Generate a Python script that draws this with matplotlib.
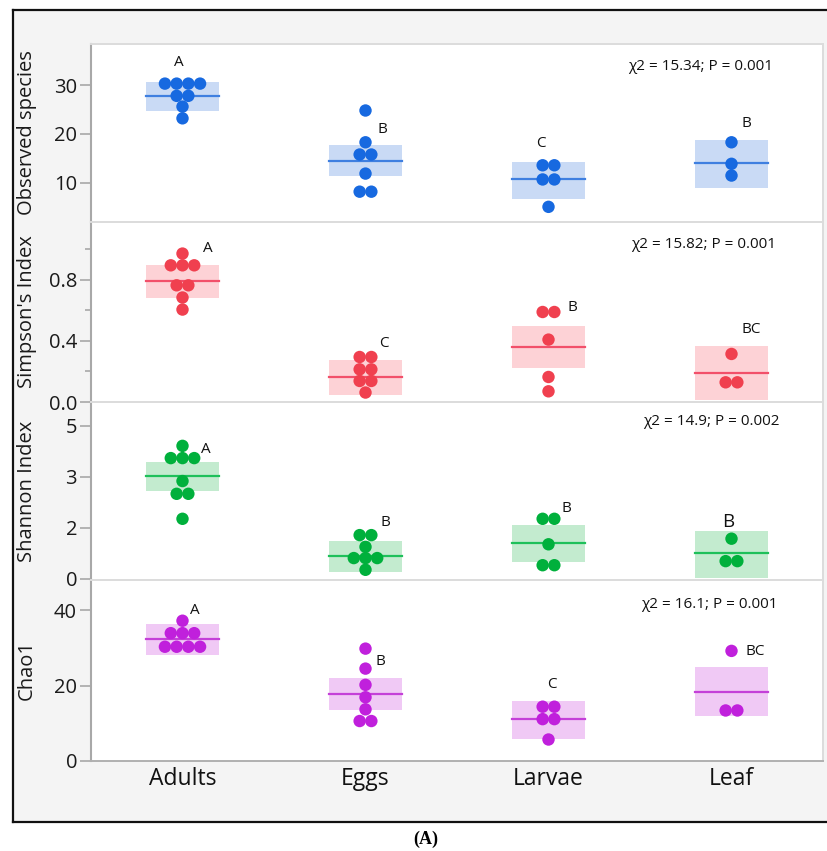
import matplotlib
matplotlib.use("Agg")
import matplotlib.pyplot as plt
from matplotlib.lines import Line2D
import numpy as np

plt.rcParams["font.family"] = ["Open Sans", "DejaVu Sans"]

groups = ["Adults", "Eggs", "Larvae", "Leaf"]

# Observed species
obs_vals = [
    [30.3, 30.3, 30.3, 30.3, 27.8, 27.8, 25.6, 23.2],
    [24.8, 18.3, 15.8, 15.8, 11.9, 8.2, 8.2],
    [13.6, 13.6, 10.7, 10.7, 5.1],
    [18.3, 13.9, 11.5],
]
obs_mean = [27.8, 14.55, 10.7, 14.1]
obs_lo = [24.7, 11.4, 6.8, 9.0]
obs_hi = [30.7, 17.8, 14.35, 18.8]
obs_letters = ["A", "B", "C", "B"]
obs_stat = "χ2 = 15.34; P = 0.001"

# Simpson's index
simp_vals = [
    [0.973, 0.896, 0.896, 0.896, 0.765, 0.765, 0.685, 0.606],
    [0.295, 0.295, 0.214, 0.214, 0.138, 0.138, 0.062],
    [0.590, 0.590, 0.409, 0.164, 0.070],
    [0.315, 0.129, 0.129],
]
simp_mean = [0.796, 0.162, 0.361, 0.190]
simp_lo = [0.685, 0.049, 0.226, 0.016]
simp_hi = [0.901, 0.278, 0.496, 0.365]
simp_letters = ["A", "C", "B", "BC"]
simp_stat = "χ2 = 15.82; P = 0.001"

# Shannon index (axis units, ticks as printed in the figure)
shan_vals = [
    [3.61, 3.37, 3.37, 3.37, 2.92, 2.67, 2.67, 2.18],
    [1.86, 1.86, 1.63, 1.41, 1.41, 1.41, 1.18],
    [2.18, 2.18, 1.68, 1.27, 1.27],
    [1.79, 1.35, 1.35],
]
shan_mean = [3.01, 1.46, 1.71, 1.50]
shan_lo = [2.72, 1.14, 1.34, 1.01]
shan_hi = [3.29, 1.74, 2.06, 1.95]
shan_letters = ["A", "B", "B", "B"]
shan_stat = "χ2 = 14.9; P = 0.002"
shan_ticks = [1, 2, 3, 4]
shan_ticklabels = ["0", "2", "3", "5"]

# Chao1
chao_vals = [
    [37.2, 33.9, 33.9, 33.9, 30.3, 30.3, 30.3, 30.3],
    [29.8, 24.5, 20.2, 16.9, 13.7, 10.6, 10.6],
    [14.4, 14.4, 11.1, 11.1, 5.7],
    [29.2, 13.4, 13.4],
]
chao_mean = [32.4, 17.7, 11.1, 18.4]
chao_lo = [28.2, 13.6, 5.9, 11.9]
chao_hi = [36.2, 22.0, 16.0, 24.9]
chao_letters = ["A", "B", "C", "BC"]
chao_stat = "χ2 = 16.1; P = 0.001"

panels = [
    dict(vals=obs_vals, mean=obs_mean, lo=obs_lo, hi=obs_hi, letters=obs_letters,
         stat=obs_stat, ylabel="Observed species", ylim=(2, 38.4), ticks=[10, 20, 30],
         ticklabels=None, minor=None,
         dot="#1769e0", box="#c9daf5", line="#3f7fe0",
         let_pos=[(-0.02, 34.7), (1.09, 20.85), (1.96, 18.0), (3.08, 22.1)],
         stat_pos=(2.83, 33.9)),
    dict(vals=simp_vals, mean=simp_mean, lo=simp_lo, hi=simp_hi, letters=simp_letters,
         stat=simp_stat, ylabel="Simpson's Index", ylim=(0, 1.18), ticks=[0.0, 0.4, 0.8],
         ticklabels=["0.0", "0.4", "0.8"], minor=[0.2, 0.6, 1.0],
         dot="#f0404f", box="#fdd2d6", line="#f2506a",
         let_pos=[(0.14, 1.008), (1.10, 0.385), (2.13, 0.621), (3.11, 0.477)],
         stat_pos=(2.85, 1.034)),
    dict(vals=shan_vals, mean=shan_mean, lo=shan_lo, hi=shan_hi, letters=shan_letters,
         stat=shan_stat, ylabel="Shannon Index", ylim=(0.98, 4.47), ticks=shan_ticks,
         ticklabels=shan_ticklabels, minor=None,
         dot="#00b03c", box="#c3ebcf", line="#1ec05a",
         let_pos=[(0.13, 3.53), (1.11, 2.10), (2.10, 2.39), (2.98, 2.12)],
         stat_pos=(2.89, 4.08)),
    dict(vals=chao_vals, mean=chao_mean, lo=chao_lo, hi=chao_hi, letters=chao_letters,
         stat=chao_stat, ylabel="Chao1", ylim=(0, 48), ticks=[0, 20, 40],
         ticklabels=None, minor=None,
         dot="#c020dc", box="#f0c9f5", line="#c440d8",
         let_pos=[(0.07, 39.9), (1.08, 26.3), (2.02, 20.2), (3.13, 29.0)],
         stat_pos=(2.88, 41.5)),
]

W, H = 827, 851
fig = plt.figure(figsize=(W / 100, H / 100), dpi=100)
fig.patch.set_facecolor("white")

# gray report frame
bg = plt.Rectangle((13 / W, 1 - 822 / H), 1.0, (822 - 10) / H, transform=fig.transFigure,
                   facecolor="#f4f4f4", edgecolor="none", zorder=-10)
fig.patches.append(bg)
for xs, ys in [((13, 13), (10, 822)), ((13, W), (10, 10)), ((13, W), (822, 822))]:
    fig.add_artist(Line2D([x / W for x in xs], [1 - y / H for y in ys],
                          color="#111111", lw=1.6, transform=fig.transFigure))

bounds = [(44, 222), (222, 402), (402, 580), (580, 761)]
left, right = 91, 823
spacing = 0.064
half_w = 0.2

for i, (p, (top, bot)) in enumerate(zip(panels, bounds)):
    ax = fig.add_axes([left / W, 1 - bot / H, (right - left) / W, (bot - top) / H])
    ax.set_facecolor("white")
    ax.set_xlim(-0.5, 3.5)
    ax.set_ylim(*p["ylim"])

    for g in range(len(groups)):
        ax.fill_between([g - half_w, g + half_w], p["lo"][g], p["hi"][g],
                        color=p["box"], lw=0, zorder=1)
        ax.plot([g - half_w, g + half_w], [p["mean"][g]] * 2, color=p["line"],
                lw=1.6, zorder=2)
        vals = np.array(p["vals"][g])
        xs = np.zeros(len(vals))
        for v in np.unique(vals):
            idx = np.where(vals == v)[0]
            n = len(idx)
            xs[idx] = g + (np.arange(n) - (n - 1) / 2) * spacing
        ax.scatter(xs, vals, s=80, color=p["dot"], edgecolor="none", zorder=3)
        lx, ly = p["let_pos"][g]
        fs = 13.5 if (i == 2 and g == 3) else 11
        ax.text(lx, ly, p["letters"][g], ha="center", va="center", fontsize=fs,
                color="#111111", zorder=4)

    ax.text(p["stat_pos"][0], p["stat_pos"][1], p["stat"], ha="center", va="center",
            fontsize=11, color="#111111")

    ax.set_yticks(p["ticks"])
    if p["ticklabels"] is not None:
        ax.set_yticklabels(p["ticklabels"])
    if p["minor"] is not None:
        ax.set_yticks(p["minor"], minor=True)
    ax.tick_params(axis="y", which="major", length=8, width=1.2, color="#a8a8a8",
                   labelsize=14.5, labelcolor="#1a1a1a", pad=2)
    ax.tick_params(axis="y", which="minor", length=4, width=1.2, color="#a8a8a8")
    ax.set_ylabel(p["ylabel"], fontsize=14.5, color="#1a1a1a")
    ax.yaxis.set_label_coords((37 - left) / (right - left), 0.5)

    for s in ["top", "right", "bottom"]:
        ax.spines[s].set_color("#dcdcdc")
        ax.spines[s].set_linewidth(1.4)
    ax.spines["left"].set_color("#a8a8a8")
    ax.spines["left"].set_linewidth(1.5)

    if i == 3:
        ax.spines["bottom"].set_color("#b0b0b0")
        ax.set_xticks(range(len(groups)))
        ax.set_xticklabels(groups)
        ax.tick_params(axis="x", length=0, labelsize=16.5, labelcolor="#111111", pad=4)
    else:
        ax.set_xticks([])

fig.text(426 / W, 1 - 839 / H, "(A)", ha="center", va="center", fontsize=13,
         fontweight="bold", family=["Liberation Serif", "DejaVu Serif"])

fig.savefig("out.png", dpi=100)
